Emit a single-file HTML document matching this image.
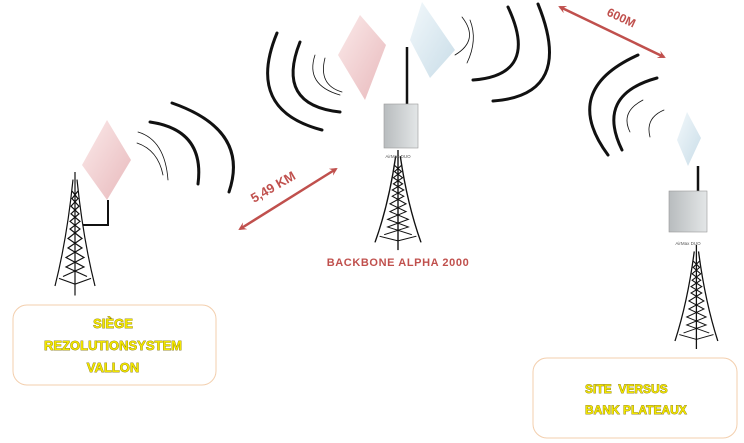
<!DOCTYPE html>
<html><head><meta charset="utf-8"><style>
html,body{margin:0;padding:0;background:#fff;}
svg{display:block}
.y{font-family:"Liberation Sans",sans-serif;font-weight:bold;fill:#f2e600;stroke:#7a6a00;stroke-width:0.7;paint-order:stroke}
</style></head><body>
<svg width="744" height="443" viewBox="0 0 744 443" xmlns="http://www.w3.org/2000/svg">
<defs>
<linearGradient id="pk" x1="0" y1="0" x2="1" y2="1"><stop offset="0" stop-color="#fbeaea"/><stop offset="1" stop-color="#e8b9bc"/></linearGradient>
<linearGradient id="bl" x1="0" y1="0" x2="1" y2="1"><stop offset="0" stop-color="#f2f8fb"/><stop offset="1" stop-color="#c9dde8"/></linearGradient>
<linearGradient id="bx" x1="0" y1="0" x2="1" y2="0"><stop offset="0" stop-color="#b8bcbe"/><stop offset="1" stop-color="#e3e6e7"/></linearGradient>
<g id="tw" fill="none" stroke="#111" stroke-width="1.2">
<path d="M20 0 L20 130"/>
<path d="M18 8 Q12 70 0 120 M22 8 Q28 70 40 120"/>
<path d="M17 20 L23 28 L16 36 L24 44 L15 52 L25 60 L13 70 L27 80 L11 90 L29 100 L8 110"/>
<path d="M23 20 L17 28 L24 36 L16 44 L25 52 L15 60 L27 70 L13 80 L29 90 L11 100 L32 110"/>
<path d="M4 112 L20 118 L36 112"/>
</g>
<marker id="ah" markerWidth="8" markerHeight="8" refX="6" refY="4" orient="auto-start-reverse" markerUnits="userSpaceOnUse"><path d="M0 0 L8 4 L0 8 L3 4Z" fill="#c0504d"/></marker>
</defs>

<use href="#tw" transform="translate(55,172) scale(1,0.95)"/>
<use href="#tw" transform="translate(375,150) scale(1.15,0.77)"/>
<use href="#tw" transform="translate(675,245) scale(1.07,0.8)"/>

<path d="M82 165 L107 120 L131 160 L107 200Z" fill="url(#pk)"/>
<path d="M108 200 L108 225 L83 225" fill="none" stroke="#111" stroke-width="2"/>
<g fill="none" stroke="#111" stroke-linecap="round">
<path d="M137 143 Q158 150 163 175" stroke-width="0.8"/>
<path d="M138 132 Q165 140 168 180" stroke-width="0.8"/>
<path d="M150 122 Q205 130 198 184" stroke-width="3"/>
<path d="M172 103 Q250 130 229 192" stroke-width="3"/>
</g>

<path d="M338 55 L360 15 L386 45 L365 100Z" fill="url(#pk)"/>
<path d="M410 40 L422 2 L455 50 L430 78Z" fill="url(#bl)"/>
<line x1="407" y1="47" x2="407" y2="105" stroke="#111" stroke-width="2.5"/>
<rect x="384" y="104" width="34" height="44" fill="url(#bx)" stroke="#999" stroke-width="0.6"/>
<text x="398" y="158" font-family="Liberation Sans,sans-serif" font-size="4.5" fill="#555" text-anchor="middle">AirMax DUO</text>
<g fill="none" stroke="#111" stroke-linecap="round">
<path d="M277 33 Q245 110 322 130" stroke-width="3"/>
<path d="M300 42 Q275 105 340 112" stroke-width="3"/>
<path d="M315 55 Q305 85 340 95" stroke-width="0.8"/>
<path d="M325 58 Q318 85 342 92" stroke-width="0.8"/>
<path d="M462 17 Q480 40 455 55" stroke-width="0.8"/>
<path d="M470 20 Q478 40 467 63" stroke-width="0.8"/>
<path d="M508 7 Q540 75 473 80" stroke-width="3"/>
<path d="M538 4 Q575 95 493 101" stroke-width="3"/>
</g>
<text x="398" y="266" font-family="Liberation Sans,sans-serif" font-weight="bold" font-size="11" fill="#c0504d" text-anchor="middle" letter-spacing="0.6">BACKBONE ALPHA 2000</text>

<line x1="240" y1="229" x2="336" y2="169" stroke="#c0504d" stroke-width="2.5" marker-start="url(#ah)" marker-end="url(#ah)"/>
<text x="0" y="0" transform="translate(254,203) rotate(-30)" font-family="Liberation Sans,sans-serif" font-weight="bold" font-size="13" fill="#c0504d">5,49 KM</text>
<line x1="560" y1="7" x2="664" y2="57" stroke="#c0504d" stroke-width="2.5" marker-start="url(#ah)" marker-end="url(#ah)"/>
<text x="0" y="0" transform="translate(606,15) rotate(25)" font-family="Liberation Sans,sans-serif" font-weight="bold" font-size="12" fill="#c0504d">600M</text>

<g fill="none" stroke="#111" stroke-linecap="round">
<path d="M638 55 Q560 90 608 155" stroke-width="3"/>
<path d="M657 78 Q595 95 622 150" stroke-width="3"/>
<path d="M643 100 Q620 112 630 132" stroke-width="0.8"/>
<path d="M664 110 Q645 118 650 137" stroke-width="0.8"/>
</g>
<path d="M677 140 L687 112 L701 138 L688 166Z" fill="url(#bl)"/>
<line x1="698" y1="166" x2="698" y2="191" stroke="#111" stroke-width="2.5"/>
<rect x="669" y="191" width="38" height="41" fill="url(#bx)" stroke="#999" stroke-width="0.6"/>
<text x="688" y="245" font-family="Liberation Sans,sans-serif" font-size="4.5" fill="#555" text-anchor="middle">AirMax DUO</text>

<rect x="13" y="305" width="203" height="80" rx="14" fill="#fff" stroke="#f3cfae" stroke-width="1"/>
<text class="y" x="113" y="328" font-size="13" text-anchor="middle">SIÈGE</text>
<text class="y" x="113" y="350" font-size="13" text-anchor="middle">REZOLUTIONSYSTEM</text>
<text class="y" x="113" y="372" font-size="13" text-anchor="middle">VALLON</text>
<rect x="533" y="358" width="204" height="80" rx="14" fill="#fff" stroke="#f3cfae" stroke-width="1"/>
<text class="y" x="585" y="393" font-size="12" xml:space="preserve">SITE  VERSUS</text>
<text class="y" x="585" y="414" font-size="12">BANK PLATEAUX</text>
</svg>
</body></html>
